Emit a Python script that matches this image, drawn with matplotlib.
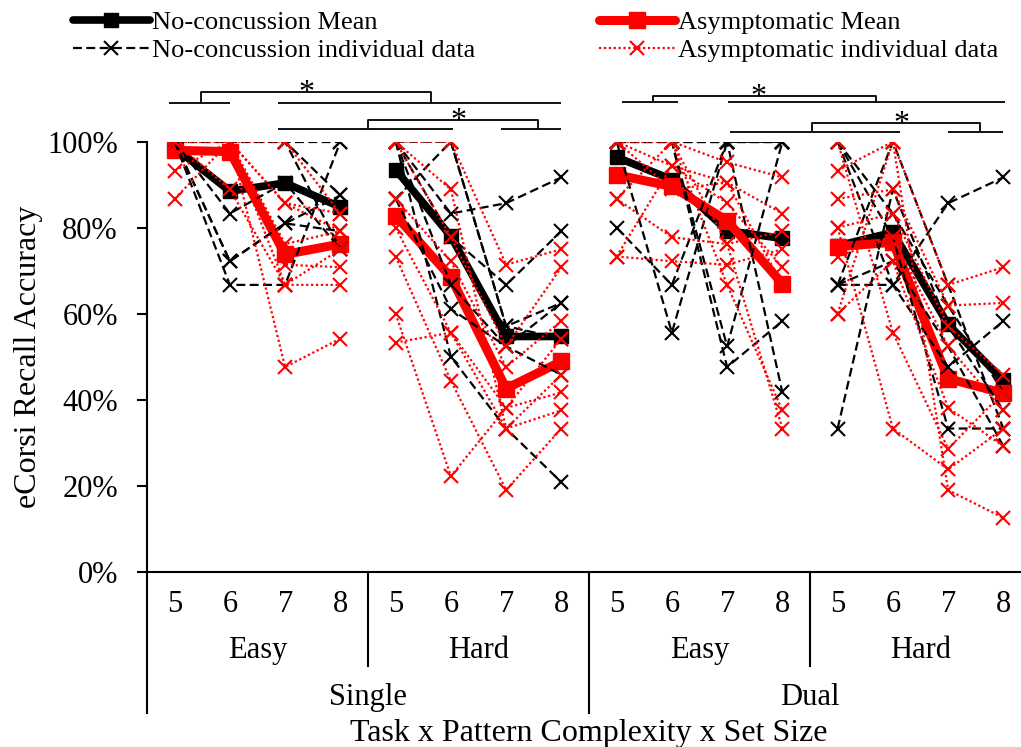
import matplotlib
matplotlib.use("Agg")
import matplotlib.pyplot as plt
from matplotlib.lines import Line2D
import numpy as np

plt.rcParams["font.family"] = ["Liberation Serif", "DejaVu Serif"]

set_sizes = [5, 6, 7, 8]
complexity = ["Easy", "Hard", "Easy", "Hard"]
tasks = ["Single", "Dual"]

# group means (%), order: Single-Easy 5-8, Single-Hard 5-8, Dual-Easy 5-8, Dual-Hard 5-8
noconc_mean = [98.6, 88.5, 90.4, 84.8, 93.5, 78.0, 54.7, 54.7,
               96.4, 91.2, 79.3, 77.5, 75.8, 78.9, 57.5, 44.5]
asym_mean = [98.0, 97.7, 73.8, 76.2, 82.8, 68.5, 42.6, 48.9,
             92.3, 89.6, 81.6, 67.0, 75.6, 76.6, 44.9, 41.5]

# individual participants (%), same 16-condition order
noconc_indiv = [
    [100, 100, 100, 100, 100, 83.3, 85.7, 91.7, 100, 100, 100, 100, 100, 66.7, 85.7, 91.7],
    [100, 100, 100, 87.5, 100, 100, 57.1, 62.5, 100, 100, 100, 41.7, 66.7, 66.7, 47.6, 58.3],
    [100, 83.3, 90.5, 75.0, 100, 77.8, 66.7, 79.2, 80.0, 66.7, 100, 100, 33.3, 88.9, 57.1, 37.5],
    [100, 72.2, 81.0, 87.5, 86.7, 61.1, 52.4, 45.8, 100, 55.6, 100, 100, 100, 77.8, 33.3, 33.3],
    [100, 66.7, 66.7, 100, 100, 50.0, 33.3, 20.8, 100, 100, 52.4, 100, 100, 83.3, 61.9, 41.7],
    [100, 100, 100, 75.0, 86.7, 100, 57.1, 54.2, 100, 100, 47.6, 58.3, 66.7, 72.2, 52.4, 29.2],
    [100, 72.2, 81.0, 79.2, 100, 66.7, 52.4, 62.5, 100, 100, 100, 100, 66.7, 100, 66.7, 33.3],
]
asym_indiv = [
    [100, 100, 85.7, 83.3, 100, 100, 71.4, 75.0, 100, 100, 95.2, 91.7, 93.3, 100, 66.7, 70.8],
    [93.3, 100, 76.2, 79.2, 86.7, 72.2, 47.6, 58.3, 100, 94.4, 90.5, 83.3, 86.7, 88.9, 61.9, 62.5],
    [86.7, 100, 71.4, 70.8, 80.0, 55.6, 38.1, 54.2, 86.7, 77.8, 76.2, 79.2, 80.0, 83.3, 57.1, 45.8],
    [100, 100, 66.7, 66.7, 73.3, 44.4, 19.0, 33.3, 73.3, 72.2, 71.4, 75.0, 73.3, 77.8, 52.4, 37.5],
    [100, 100, 47.6, 54.2, 60.0, 22.2, 38.1, 41.7, 100, 100, 66.7, 37.5, 60.0, 72.2, 38.1, 29.2],
    [100, 88.9, 66.7, 75.0, 53.3, 55.6, 33.3, 37.5, 86.7, 100, 76.2, 33.3, 100, 55.6, 28.6, 41.7],
    [100, 100, 100, 83.3, 100, 77.8, 52.4, 70.8, 73.3, 94.4, 85.7, 70.8, 80.0, 33.3, 23.8, 33.3],
    [100, 100, 85.7, 79.2, 100, 88.9, 33.3, 45.8, 100, 88.9, 90.5, 66.7, 60.0, 100, 19.0, 12.5],
]

# significance brackets: (left line, right line, line y, bracket legs x, bracket top y, star x)
sig_brackets = [
    ((-0.1, 1.0), (1.87, 7.0), 1.091, (0.48, 4.64), 1.116, 2.39),
    ((1.87, 5.04), (5.91, 7.0), 1.030, (3.50, 6.58), 1.051, 5.13),
    ((8.1, 9.11), (10.02, 15.03), 1.093, (8.66, 12.70), 1.107, 10.56),
    ((10.05, 13.13), (14.0, 15.0), 1.023, (11.54, 14.58), 1.044, 13.16),
]

fig = plt.figure(figsize=(10.21, 7.47), dpi=100)
ax = fig.add_axes([147 / 1021, (747 - 571.7) / 747, 884 / 1021, 430 / 747])

x = np.arange(16)
blocks = [slice(0, 4), slice(4, 8), slice(8, 12), slice(12, 16)]

nm = np.array(noconc_mean) / 100
am = np.array(asym_mean) / 100
for b in blocks:
    ax.plot(x[b], nm[b], color="black", lw=5.5, marker="s", ms=10, zorder=2)
for b in blocks:
    ax.plot(x[b], am[b], color="red", lw=6.5, marker="s", ms=11, zorder=2)

for row in noconc_indiv:
    r = np.array(row) / 100
    for b in blocks:
        ax.plot(x[b], r[b], color="black", lw=1.6, ls=(0, (4, 2)),
                marker="x", ms=10.5, mew=1.5, zorder=3)
for row in asym_indiv:
    r = np.array(row) / 100
    for b in blocks:
        ax.plot(x[b], r[b], color="red", lw=1.6, ls=(0, (1, 1.2)),
                marker="x", ms=10.5, mew=1.5, zorder=3)

ax.set_xlim(-0.5, 15.5)
ax.set_ylim(0, 1)
ax.set_yticks(np.linspace(0, 1, 6))
ax.set_yticklabels([f"{int(v)}%" for v in np.linspace(0, 100, 6)], fontsize=22)
ax.tick_params(axis="y", direction="out", length=7, width=1.5, pad=14)
ax.set_xticks([])
for s in ["top", "right"]:
    ax.spines[s].set_visible(False)
for s in ["left", "bottom"]:
    ax.spines[s].set_linewidth(1.5)
ax.set_ylabel("eCorsi Recall Accuracy", fontsize=23)
ax.yaxis.set_label_coords(-0.118, 0.5)

# hierarchical x-axis labels
xt = ax.get_xaxis_transform()
for i in range(16):
    ax.text(x[i], -0.076, str(set_sizes[i % 4]), transform=xt, ha="center", va="center", fontsize=22)
for k, lab in enumerate(complexity):
    ax.text(4 * k + 1.5, -0.184, lab, transform=xt, ha="center", va="center", fontsize=22)
for k, lab in enumerate(tasks):
    ax.text(8 * k + 3.5, -0.292, lab, transform=xt, ha="center", va="center", fontsize=22)
ax.text(7.5, -0.393, "Task x Pattern Complexity x Set Size", transform=xt,
        ha="center", va="baseline", fontsize=23)
for xs, ylow in [(-0.5, -0.329), (3.5, -0.219), (7.5, -0.329), (11.5, -0.219)]:
    ax.plot([xs, xs], [0, ylow], transform=xt, color="black", lw=1.5, clip_on=False)

# significance brackets
for (l1, l2, ly, legs, top, sx) in sig_brackets:
    kw = dict(color="black", lw=1.3, clip_on=False, solid_capstyle="butt")
    ax.plot(l1, [ly, ly], **kw)
    ax.plot(l2, [ly, ly], **kw)
    ax.plot([legs[0], legs[0], legs[1], legs[1]], [ly, top, top, ly], **kw)
    ax.text(sx, top - 0.038, "*", ha="center", va="bottom", fontsize=23, clip_on=False)

handles = [
    Line2D([], [], color="black", lw=5.5, marker="s", ms=10, solid_capstyle="round"),
    Line2D([], [], color="black", lw=1.6, ls=(0, (4, 2)), marker="x", ms=10, mew=1.5),
    Line2D([], [], color="red", lw=6.5, marker="s", ms=11, solid_capstyle="round"),
    Line2D([], [], color="red", lw=1.6, ls=(0, (1, 1.2)), marker="x", ms=10, mew=1.5),
]
labels = ["No-concussion Mean", "No-concussion individual data",
          "Asymptomatic Mean", "Asymptomatic individual data"]
fig.legend(handles, labels, ncol=2, loc="upper left", bbox_to_anchor=(73 / 1021, 1 - 11 / 747),
           frameon=False, fontsize=19, handlelength=2.9, handletextpad=0.08,
           columnspacing=4.7, labelspacing=0.16, borderpad=0, borderaxespad=0, numpoints=1)

fig.savefig("out.png", dpi=100)
